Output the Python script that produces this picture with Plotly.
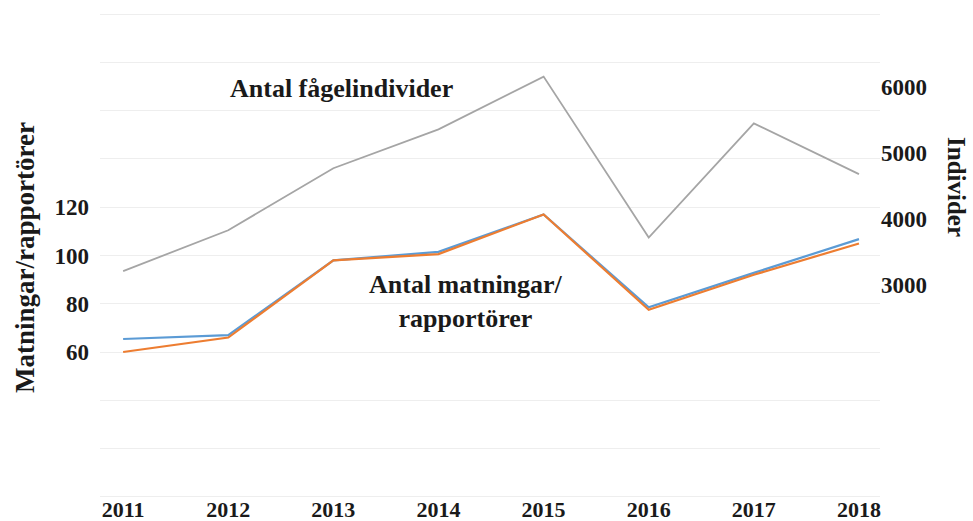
import plotly.graph_objects as go

years = [2011, 2012, 2013, 2014, 2015, 2016, 2017, 2018]
matningar = [65.4, 67, 98, 101.5, 117, 78.5, 92.8, 106.8]
rapportorer = [60, 66, 98, 100.6, 117, 77.5, 92, 105]
individer = [3210, 3830, 4770, 5360, 6160, 3720, 5450, 4680]

left_tickvals = [0, 20, 40, 60, 80, 100, 120, 140, 160, 180, 200]
left_ticktext = ["", "", "", "60", "80", "100", "120", "", "", "", ""]
right_tickvals = [3000, 4000, 5000, 6000]
right_ticktext = ["3000", "4000", "5000", "6000"]

FONT = "Liberation Serif"
TXT = "#1a1a1a"

fig = go.Figure()
fig.add_trace(go.Scatter(x=years, y=matningar, mode="lines", name="Matningar",
                         line=dict(color="#5b9bd5", width=2.2), yaxis="y"))
fig.add_trace(go.Scatter(x=years, y=rapportorer, mode="lines", name="Rapportörer",
                         line=dict(color="#ed7d31", width=2.2), yaxis="y"))
fig.add_trace(go.Scatter(x=years, y=individer, mode="lines", name="Individer",
                         line=dict(color="#a5a5a5", width=1.8), yaxis="y2"))

W, H = 973, 521
L, R, T, B = 100, 93, 13, 23
pw, ph = W - L - R, H - T - B

fig.update_layout(
    width=W, height=H,
    margin=dict(l=L, r=R, t=T, b=B, autoexpand=False),
    paper_bgcolor="white", plot_bgcolor="white",
    showlegend=False,
    font=dict(family=FONT, size=23, color=TXT),
    xaxis=dict(range=[2010.78, 2018.2], tickvals=years, ticktext=[str(y) for y in years],
               showgrid=False, zeroline=False, showline=False, ticks="", automargin=False,
               tickfont=dict(family=FONT, size=22, color=TXT, weight="bold"),
               ticklabelstandoff=-4),
    yaxis=dict(range=[-0.5, 200.5], tickvals=left_tickvals, ticktext=left_ticktext,
               showgrid=True, gridcolor="#eeeeee", gridwidth=1, zeroline=False,
               showline=False, ticks="", automargin=False,
               tickfont=dict(family=FONT, size=23, color=TXT, weight="bold"),
               ticklabelstandoff=10),
    yaxis2=dict(range=[-230, 7124], tickvals=right_tickvals, ticktext=right_ticktext,
                overlaying="y", side="right", showgrid=False, zeroline=False,
                showline=False, ticks="", automargin=False,
                tickfont=dict(family=FONT, size=23, color=TXT, weight="bold"),
                ticklabelstandoff=0),
)

# annotations placed by pixel position, converted to paper coords
ann_specs = [
    ("<b>Antal fågelindivider</b>", 341, 88, 0, 26),
    ("<b>Antal matningar/<br>rapportörer</b>", 466, 301, 0, 26),
    ("<b>Matningar/rapportörer</b>", 25, 258, -90, 27),
    ("<b>Individer</b>", 957, 187, 90, 25),
]
anns = []
for text, px, py, ang, fs in ann_specs:
    anns.append(dict(text=text, x=(px - L) / pw, y=1 - (py - T) / ph,
                     xref="paper", yref="paper", xanchor="center", yanchor="middle",
                     textangle=ang, showarrow=False,
                     font=dict(family=FONT, size=fs, color=TXT)))
fig.update_layout(annotations=anns)

fig.write_html("out.html", config={"displayModeBar": False},
               post_script="document.body.style.margin='0';document.body.style.overflow='hidden';")
